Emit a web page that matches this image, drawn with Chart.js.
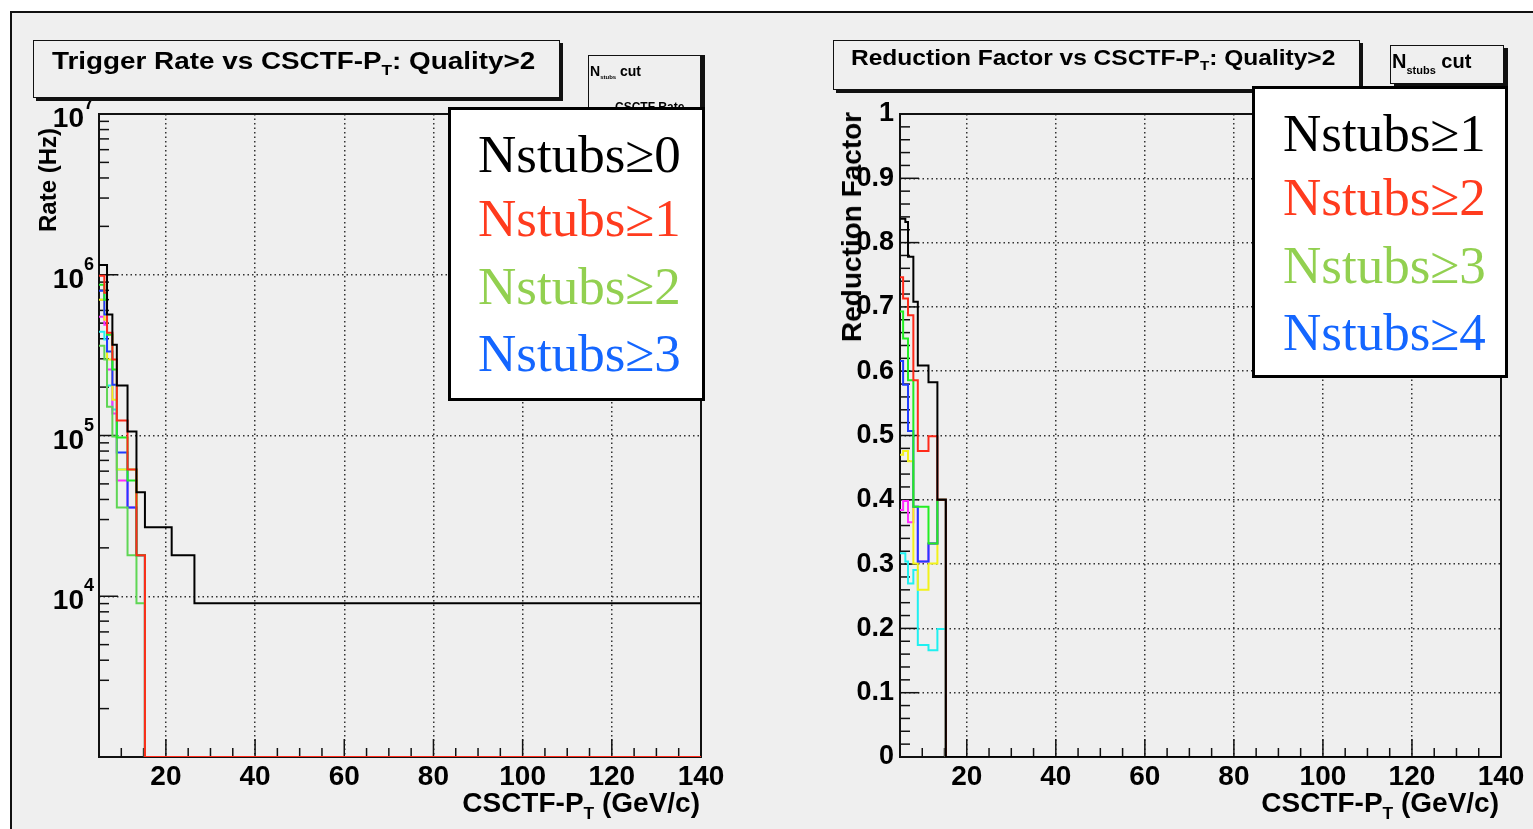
<!DOCTYPE html>
<html>
<head>
<meta charset="utf-8">
<script src="https://cdn.jsdelivr.net/npm/chart.js@4.4.1/dist/chart.umd.min.js"></script>
<style>
  html, body { margin: 0; padding: 0; background: #fff; }
  #page { position: relative; width: 1533px; height: 829px; overflow: hidden; background: #fff;
          font-family: 'Liberation Sans', Arial, sans-serif; color: #000; }
  #frame { position: absolute; left: 10px; top: 11px; width: 1560px; height: 860px;
           border: 2px solid #111; background: #efefef; box-sizing: border-box; }
  canvas { position: absolute; top: 0; }
  .pave { position: absolute; box-sizing: border-box; border: 1.5px solid #111;
          background: #efefef; box-shadow: 3px 3px 0 #111; }
  .txt { position: absolute; white-space: nowrap; font-weight: bold; line-height: 1; }
  .sub { font-size: 0.62em; position: relative; top: 0.38em; }
  .legend { position: absolute; box-sizing: border-box; border: 3px solid #000; background: #fff; }
  .leg { position: absolute; white-space: nowrap; font-family: 'Liberation Serif', 'Times New Roman', serif;
         font-size: 53px; line-height: 1; }
  .rot { position: absolute; white-space: nowrap; font-weight: bold; line-height: 1;
         transform: translate(-50%, -50%) rotate(-90deg); }
</style>
</head>
<body>
<div id="page">
  <div id="frame"></div>

  <canvas id="rateChart" width="770" height="829" style="left:0px"></canvas>
  <canvas id="redChart" width="763" height="829" style="left:770px"></canvas>

  <!-- left pad: title and cut box -->
  <div class="pave" style="left:33px; top:40px; width:527px; height:58px;"></div>
  <div class="txt" style="left:52px; top:49px; font-size:24px; transform:scaleX(1.16); transform-origin:0 50%;">Trigger Rate vs CSCTF-P<span class="sub">T</span>: Quality&gt;2</div>

  <div class="pave" style="left:588px; top:55px; width:113px; height:60px; box-shadow:4px 0 0 #111;"></div>
  <div class="txt" style="left:590px; top:64px; font-size:14px;">N<span style="font-size:6px; position:relative; top:3px;">stubs</span> cut</div>
  <div class="txt" style="left:615px; top:101px; font-size:12px;">CSCTF Rate</div>

  <div class="legend" style="left:448px; top:107px; width:257px; height:294px;"></div>
  <div class="leg" style="left:478px; top:128px; color:#000;">Nstubs&#8805;0</div>
  <div class="leg" style="left:478px; top:192px; color:#ff3b1e;">Nstubs&#8805;1</div>
  <div class="leg" style="left:478px; top:260px; color:#92d050;">Nstubs&#8805;2</div>
  <div class="leg" style="left:478px; top:327px; color:#1466ff;">Nstubs&#8805;3</div>

  <div class="rot" style="left:48px; top:180px; font-size:24px;">Rate (Hz)</div>
  <div class="txt" style="right:833px; top:789px; font-size:28px;">CSCTF-P<span class="sub">T</span> (GeV/c)</div>

  <!-- right pad: title and cut box -->
  <div class="pave" style="left:833px; top:40px; width:527px; height:50px;"></div>
  <div class="txt" style="left:851px; top:47px; font-size:22px; transform:scaleX(1.115); transform-origin:0 50%;">Reduction Factor vs CSCTF-P<span class="sub">T</span>: Quality&gt;2</div>

  <div class="pave" style="left:1390px; top:45px; width:114px; height:39px; box-shadow:4px 3px 0 #111;"></div>
  <div class="txt" style="left:1392px; top:51px; font-size:20px;">N<span style="font-size:11px; position:relative; top:6px;">stubs</span> cut</div>

  <div class="legend" style="left:1252px; top:86px; width:256px; height:292px;"></div>
  <div class="leg" style="left:1283px; top:107px; color:#000;">Nstubs&#8805;1</div>
  <div class="leg" style="left:1283px; top:171px; color:#ff3b1e;">Nstubs&#8805;2</div>
  <div class="leg" style="left:1283px; top:239px; color:#92d050;">Nstubs&#8805;3</div>
  <div class="leg" style="left:1283px; top:306px; color:#1466ff;">Nstubs&#8805;4</div>

  <div class="rot" style="left:852px; top:227px; font-size:28px;">Reduction Factor</div>
  <div class="txt" style="right:34px; top:789px; font-size:28px;">CSCTF-P<span class="sub">T</span> (GeV/c)</div>
</div>

<script>
// CSCTF pT bin edges (GeV/c), shared by every histogram
const PT_EDGES = [5, 5.7, 6.2, 6.8, 8.0, 9.0, 11.4, 13.4, 15.3, 21.3, 26.4, 140];

// Trigger rate (Hz) per pT bin, one array per Nstubs cut
const RATE_NSTUBS0 = [1.15e6, 1.15e6, 1.15e6, 5.65e5, 3.67e5, 2.05e5, 1.06e5, 4.43e4, 2.69e4, 1.80e4, 9.06e3];
const RATE_NSTUBS1 = [9.86e5, 9.86e5, 7.73e5, 4.36e5, 2.97e5, 1.24e5, 6.15e4, 1.80e4, 0, 0, 0];
const RATE_NSTUBS2 = [8.67e5, 8.67e5, 7.00e5, 4.24e5, 2.57e5, 9.72e4, 5.25e4, 1.80e4, 0, 0, 0];
const RATE_NSTUBS3 = [7.96e5, 7.96e5, 5.65e5, 3.33e5, 2.07e5, 7.84e4, 3.57e4, 1.80e4, 0, 0, 0];
const RATE_NSTUBS4 = [7.00e5, 7.00e5, 5.25e5, 2.97e5, 1.67e5, 6.15e4, 6.15e4, 1.80e4, 0, 0, 0];
const RATE_NSTUBS5 = [5.48e5, 5.48e5, 4.89e5, 2.57e5, 1.37e5, 5.25e4, 3.57e4, 1.80e4, 0, 0, 0];
const RATE_NSTUBS6 = [4.42e5, 4.42e5, 3.95e5, 2.05e5, 1.45e5, 6.15e4, 6.15e4, 1.80e4, 0, 0, 0];
const RATE_NSTUBS7 = [3.62e5, 3.62e5, 2.97e5, 1.51e5, 9.86e4, 3.57e4, 1.80e4, 9.06e3, 0, 0, 0];

// Reduction factor per pT bin, one array per Nstubs cut
const RF_NSTUBS1 = [0.837, 0.837, 0.832, 0.778, 0.708, 0.609, 0.583, 0.400, 0, 0, 0];
const RF_NSTUBS2 = [0.746, 0.713, 0.713, 0.687, 0.586, 0.476, 0.499, 0.400, 0, 0, 0];
const RF_NSTUBS3 = [0.693, 0.651, 0.651, 0.586, 0.389, 0.389, 0.332, 0.400, 0, 0, 0];
const RF_NSTUBS4 = [0.616, 0.579, 0.579, 0.507, 0.389, 0.304, 0.332, 0.400, 0, 0, 0];
const RF_NSTUBS5 = [0.470, 0.476, 0.476, 0.460, 0.301, 0.260, 0.301, 0.400, 0, 0, 0];
const RF_NSTUBS6 = [0.384, 0.398, 0.398, 0.365, 0.389, 0.304, 0.332, 0.400, 0, 0, 0];
const RF_NSTUBS7 = [0.317, 0.317, 0.304, 0.270, 0.291, 0.174, 0.166, 0.199, 0, 0, 0];

// Axis ticks and labels
const PT_TICKS = [20, 40, 60, 80, 100, 120, 140];
const RATE_DECADES = [3, 4, 5, 6, 7];
const RATE_LABELLED = [4, 5, 6, 7];
const RF_TICKS = [0, 0.1, 0.2, 0.3, 0.4, 0.5, 0.6, 0.7, 0.8, 0.9, 1];
const RF_TICK_LABELS = ['0', '0.1', '0.2', '0.3', '0.4', '0.5', '0.6', '0.7', '0.8', '0.9', '1'];

// ROOT palette: 1 black, 2 red, 3 green, 4 blue, 5 yellow, 6 magenta, 7 cyan, 8 light green
const ROOT_COLORS = ['#000000', '#ff2a1a', '#22ee22', '#1f3cff', '#f2f21a', '#ff2cff', '#1ff0f0', '#5fd655'];

const RATE_FLOOR = 1e3;
const RATE_CEIL = 1e7;

Chart.defaults.font.family = "'Liberation Sans', Arial, sans-serif";

// histogram contents -> step-line points (empty bins sit on the pad floor)
function stepPoints(values, floor) {
  const pts = values.map((v, i) => ({ x: PT_EDGES[i], y: v > 0 ? v : floor }));
  const last = values[values.length - 1];
  pts.push({ x: PT_EDGES[values.length], y: last > 0 ? last : floor });
  return pts;
}

function histDataset(values, color, order, floor) {
  return {
    data: stepPoints(values, floor),
    borderColor: color,
    borderWidth: 2,
    stepped: 'before',
    pointRadius: 0,
    fill: false,
    order: order
  };
}

// inward ROOT-style ticks, pad frame and log labels
const rootFrame = {
  id: 'rootFrame',
  beforeDatasetsDraw(chart, args, opts) {
    const { ctx, chartArea: a } = chart;
    const xs = chart.scales.x, ys = chart.scales.y;
    ctx.save();
    ctx.strokeStyle = '#111';
    ctx.lineWidth = 1.5;
    const seg = (x1, y1, x2, y2) => { ctx.beginPath(); ctx.moveTo(x1, y1); ctx.lineTo(x2, y2); ctx.stroke(); };
    // x ticks: major every 20, minor every 5
    for (let v = 10; v < 140; v += 5) {
      const px = xs.getPixelForValue(v);
      const major = PT_TICKS.includes(v);
      seg(px, a.bottom, px, a.bottom - (major ? 18 : 9));
    }
    // y ticks
    opts.yMajor.forEach(v => { const py = ys.getPixelForValue(v); seg(a.left, py, a.left + 19, py); });
    opts.yMinor.forEach(v => { const py = ys.getPixelForValue(v); seg(a.left, py, a.left + 10, py); });
    ctx.lineWidth = 2;
    ctx.strokeRect(a.left, a.top, a.right - a.left, a.bottom - a.top);
    ctx.restore();
  },
  afterDraw(chart, args, opts) {
    if (!opts.logLabels) return;
    const { ctx, chartArea: a } = chart;
    const ys = chart.scales.y;
    ctx.save();
    ctx.fillStyle = '#000';
    ctx.textBaseline = 'alphabetic';
    RATE_LABELLED.forEach(e => {
      const py = ys.getPixelForValue(Math.pow(10, e));
      ctx.font = "bold 28px 'Liberation Sans'";
      ctx.textAlign = 'right';
      ctx.fillText('10', a.left - 15, py + 13);
      ctx.font = "bold 18px 'Liberation Sans'";
      ctx.textAlign = 'left';
      ctx.fillText(String(e), a.left - 15, py - 5);
    });
    ctx.restore();
  }
};

function xScale() {
  return {
    type: 'linear', position: 'bottom', min: 5, max: 140,
    afterBuildTicks: s => { s.ticks = PT_TICKS.map(v => ({ value: v })); },
    afterFit: s => { s.height = 72; },
    ticks: { color: '#000', font: { size: 28, weight: 'bold' }, padding: 3, maxRotation: 0, autoSkip: false },
    grid: { color: '#333', lineWidth: 1.5, drawTicks: false },
    border: { display: false, dash: [1.5, 3] }
  };
}

// minor tick positions of the log axis (2..9 per decade)
const rateMinor = [];
for (let e = 3; e < 7; e++) for (let k = 2; k <= 9; k++) rateMinor.push(k * Math.pow(10, e));
const rfMinor = [];
for (let i = 0; i < 50; i++) if (i % 5 !== 0) rfMinor.push(i * 0.02);

new Chart(document.getElementById('rateChart'), {
  type: 'line',
  data: {
    datasets: [
      histDataset(RATE_NSTUBS0, ROOT_COLORS[0], 0, RATE_FLOOR),
      histDataset(RATE_NSTUBS1, ROOT_COLORS[1], 1, RATE_FLOOR),
      histDataset(RATE_NSTUBS2, ROOT_COLORS[2], 2, RATE_FLOOR),
      histDataset(RATE_NSTUBS7, ROOT_COLORS[7], 3, RATE_FLOOR),
      histDataset(RATE_NSTUBS3, ROOT_COLORS[3], 4, RATE_FLOOR),
      histDataset(RATE_NSTUBS4, ROOT_COLORS[4], 5, RATE_FLOOR),
      histDataset(RATE_NSTUBS5, ROOT_COLORS[5], 6, RATE_FLOOR),
      histDataset(RATE_NSTUBS6, ROOT_COLORS[6], 7, RATE_FLOOR)
    ]
  },
  options: {
    responsive: false, animation: false, events: [], devicePixelRatio: 1,
    layout: { padding: { top: 114, left: 0, right: 69, bottom: 0 } },
    scales: {
      x: xScale(),
      y: {
        type: 'logarithmic', min: RATE_FLOOR, max: RATE_CEIL,
        afterBuildTicks: s => { s.ticks = RATE_DECADES.map(e => ({ value: Math.pow(10, e) })); },
        afterFit: s => { s.width = 99; },
        ticks: { display: false },
        grid: { color: '#333', lineWidth: 1.5, drawTicks: false },
        border: { display: false, dash: [1.5, 3] }
      }
    },
    plugins: {
      legend: { display: false }, tooltip: { enabled: false },
      rootFrame: { yMajor: RATE_DECADES.map(e => Math.pow(10, e)), yMinor: rateMinor, logLabels: true }
    }
  },
  plugins: [rootFrame]
});

new Chart(document.getElementById('redChart'), {
  type: 'line',
  data: {
    datasets: [
      histDataset(RF_NSTUBS1, ROOT_COLORS[0], 0, 0),
      histDataset(RF_NSTUBS2, ROOT_COLORS[1], 1, 0),
      histDataset(RF_NSTUBS3, ROOT_COLORS[2], 2, 0),
      histDataset(RF_NSTUBS4, ROOT_COLORS[3], 3, 0),
      histDataset(RF_NSTUBS5, ROOT_COLORS[4], 4, 0),
      histDataset(RF_NSTUBS6, ROOT_COLORS[5], 5, 0),
      histDataset(RF_NSTUBS7, ROOT_COLORS[6], 6, 0)
    ]
  },
  options: {
    responsive: false, animation: false, events: [], devicePixelRatio: 1,
    layout: { padding: { top: 114, left: 0, right: 32, bottom: 0 } },
    scales: {
      x: xScale(),
      y: {
        type: 'linear', min: 0, max: 1,
        afterBuildTicks: s => { s.ticks = RF_TICKS.map(v => ({ value: v })); },
        afterFit: s => { s.width = 130; },
        ticks: {
          color: '#000', font: { size: 27, weight: 'bold' }, padding: 6,
          callback: (v, i) => RF_TICK_LABELS[i]
        },
        grid: { color: '#333', lineWidth: 1.5, drawTicks: false },
        border: { display: false, dash: [1.5, 3] }
      }
    },
    plugins: {
      legend: { display: false }, tooltip: { enabled: false },
      rootFrame: { yMajor: RF_TICKS, yMinor: rfMinor, logLabels: false }
    }
  },
  plugins: [rootFrame]
});
</script>
</body>
</html>
